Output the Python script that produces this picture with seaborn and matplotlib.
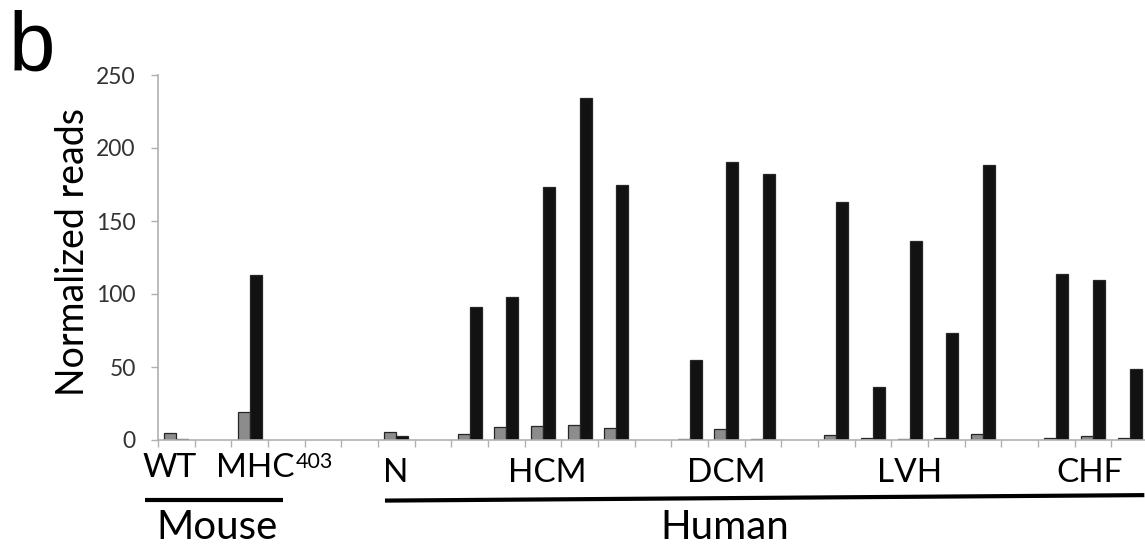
import numpy as np
import pandas as pd
import matplotlib
matplotlib.use("Agg")
import matplotlib.pyplot as plt
import matplotlib.transforms as mtransforms
import seaborn as sns

# ---- data ----
slots = ["WT", "s1", "MHC403", "s3", "s4", "s5", "N", "s7",
         "HCM1", "HCM2", "HCM3", "HCM4", "HCM5", "s13",
         "DCM1", "DCM2", "DCM3", "s17",
         "LVH1", "LVH2", "LVH3", "LVH4", "LVH5", "s23",
         "CHF1", "CHF2", "CHF3"]
gray_vals = [4.8, np.nan, 19.4, np.nan, np.nan, np.nan, 5.3, np.nan,
             4.0, 9.0, 9.6, 10.3, 8.4, np.nan,
             0.5, 7.5, 1.0, np.nan,
             3.5, 1.5, 1.0, 1.5, 4.0, np.nan,
             1.5, 2.5, 1.5]
black_vals = [0.5, np.nan, 113, np.nan, np.nan, np.nan, 3.0, np.nan,
              91, 98, 173, 234, 174.5, np.nan,
              54.5, 190.5, 182.5, np.nan,
              163, 36.5, 136, 73, 188.5, np.nan,
              113.5, 109.5, 48.5]
human_labels = ["N", "HCM", "DCM", "LVH", "CHF"]
human_label_pos = [5.99, 10.11, 15.0, 20.0, 24.9]
yticks = [0, 50, 100, 150, 200, 250]

df = pd.DataFrame({
    "slot": slots * 2,
    "series": ["gray"] * len(slots) + ["black"] * len(slots),
    "value": gray_vals + black_vals,
}).dropna()

sns.set_theme(style="white")
plt.rcParams["font.family"] = ["Lato", "DejaVu Sans"]

W, H = 1145, 548
fig = plt.figure(figsize=(W / 100, H / 100), dpi=100)
ax_left, ax_right, ax_bottom, ax_top = 158, 1148, 440, 75
ax = fig.add_axes([ax_left / W, (H - ax_bottom) / H,
                   (ax_right - ax_left) / W, (ax_bottom - ax_top) / H])

sns.barplot(data=df, x="slot", y="value", hue="series", order=slots,
            hue_order=["gray", "black"],
            palette={"gray": "#8c8c8c", "black": "#121212"},
            width=0.655, saturation=1, errorbar=None, legend=False,
            edgecolor="#262626", linewidth=0.9, ax=ax)

ax.set_xlim(-0.5, len(slots) - 0.5)
ax.set_ylim(0, 250)
ax.set_yticks(yticks)
ax.set_yticklabels([str(t) for t in yticks], fontsize=16.5, color="#333333")
ax.set_xticks(np.arange(len(slots) + 1) - 0.5)
ax.set_xticklabels([])
ax.tick_params(axis="y", direction="out", length=5, width=1, color="#b0b0b0", pad=11, left=True)
ax.tick_params(axis="x", direction="out", length=5, width=1, color="#b0b0b0", bottom=True)
for s in ["top", "right"]:
    ax.spines[s].set_visible(False)
for s in ["left", "bottom"]:
    ax.spines[s].set_color("#b0b0b0")
    ax.spines[s].set_linewidth(1.2)
ax.set_xlabel("")
ax.set_ylabel("Normalized reads", fontsize=27, color="black")
ax.yaxis.set_label_coords(-0.068, 0.516)

trans = mtransforms.blended_transform_factory(ax.transData, ax.transAxes)
# mouse sample labels
ax.text(-0.17, -0.101, "WT", transform=trans, ha="center", va="baseline",
        fontsize=24, color="black", clip_on=False)
mhc = ax.text(1.08, -0.101, "MHC", transform=trans, ha="left", va="baseline",
              fontsize=24, color="black", clip_on=False)
fig.canvas.draw()
bb = mhc.get_window_extent(renderer=fig.canvas.get_renderer())
sup_y_px = H - 468  # baseline of superscript, in display pixels from bottom
fig.text((bb.x1 + 1) / W, sup_y_px / H, "403", ha="left", va="baseline",
         fontsize=15.5, color="black")
# human sample labels
for lab, p in zip(human_labels, human_label_pos):
    ax.text(p, -0.115, lab, transform=trans, ha="center", va="baseline",
            fontsize=24, color="black", clip_on=False)

# group underline bars
ax.plot([-0.85, 2.91], [-0.164, -0.164], transform=trans, color="black",
        lw=3, clip_on=False, solid_capstyle="butt")
ax.plot([5.69, 26.4], [-0.166, -0.151], transform=trans, color="black",
        lw=3, clip_on=False, solid_capstyle="butt")
ax.text(1.1, -0.272, "Mouse", transform=trans, ha="center", va="baseline",
        fontsize=29, color="black", clip_on=False)
ax.text(14.95, -0.272, "Human", transform=trans, ha="center", va="baseline",
        fontsize=29, color="black", clip_on=False)

fig.text(9 / W, 1 - 10 / H, "b", fontsize=60, ha="left", va="top",
         family=["Liberation Sans", "DejaVu Sans"], color="black")

fig.savefig("out.png", dpi=100)
